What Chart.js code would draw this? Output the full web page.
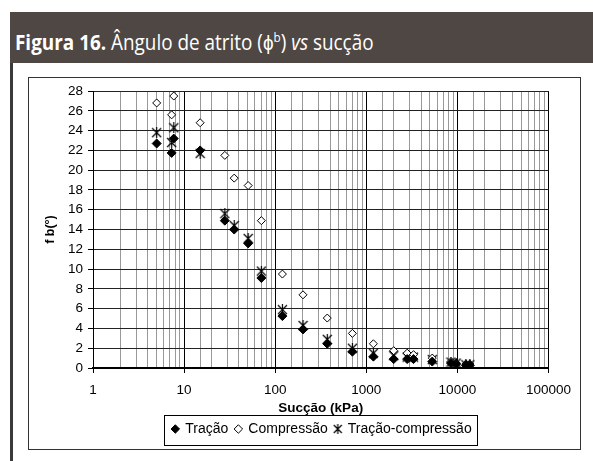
<!DOCTYPE html>
<html>
<head>
<meta charset="utf-8">
<script src="https://cdn.jsdelivr.net/npm/chart.js@4"></script>
<style>
  body { margin: 0; background: #fff; width: 593px; height: 461px; overflow: hidden; position: relative; }
  #leftLine { position: absolute; left: 10px; top: 12px; width: 3px; height: 449px; background: #3a3a3a; }
  #header { position: absolute; left: 10px; top: 12px; width: 583px; height: 51px; background: #4f4743;
    color: #fff; font-family: "Open Sans", sans-serif; font-size: 21px; line-height: 51px; padding-left: 5px; box-sizing: border-box;
    white-space: nowrap; }
  #header span { display: inline-block; transform: scaleX(0.9); transform-origin: left center; }
  #header b { font-weight: 700; }
  #frame { position: absolute; left: 28px; top: 77px; width: 553px; height: 373px; border: 1px solid #333; box-sizing: border-box; }
</style>
</head>
<body>
<div id="leftLine"></div>
<div id="header"><span><b>Figura 16.</b> Ângulo de atrito (ϕ<sup style="font-size:13px">b</sup>) <i>vs</i> sucção</span></div>
<div id="frame"><canvas id="chart" width="551" height="371"></canvas></div>
<script>
// Sucção (kPa) - mesmo eixo x para as três séries
const succao = [5, 7.3, 7.7, 15, 28, 35.5, 50.5, 70.5, 120, 202, 373, 704, 1197, 2000, 2810, 3300, 5300, 8500, 9700, 12400, 13700];
const tracao = [22.7, 21.75, 23.2, 22.0, 14.9, 14.0, 12.6, 9.1, 5.25, 3.9, 2.45, 1.65, 1.15, 0.9, 0.9, 0.9, 0.65, 0.5, 0.4, 0.27, 0.27];
const compressao = [26.8, 25.6, 27.5, 24.8, 21.5, 19.2, 18.45, 14.9, 9.5, 7.4, 5.05, 3.5, 2.45, 1.75, 1.5, 1.35, 1.0, 0.65, 0.5, 0.4, 0.4];
const tracaoCompressao = [23.8, 22.8, 24.3, 21.7, 15.6, 14.4, 13.1, 9.8, 5.9, 4.3, 2.9, 2.0, 1.5, 1.25, 1.1, 1.1, 0.85, 0.6, 0.5, 0.33, 0.33];

const seriesNames = ["Tração", "Compressão", "Tração-compressão"];

function pts(ys) {
  return ys.map((y, i) => ({ x: succao[i], y: y }));
}

// marcador estilo Excel: X com traço vertical
function makeStar(size) {
  const cv = document.createElement("canvas");
  cv.width = size;
  cv.height = size;
  const c = cv.getContext("2d");
  const m = size / 2;
  c.strokeStyle = "#000";
  c.lineWidth = 1.2;
  c.beginPath();
  c.moveTo(1, 1); c.lineTo(size - 1, size - 1);
  c.moveTo(size - 1, 1); c.lineTo(1, size - 1);
  c.moveTo(m, 0); c.lineTo(m, size);
  c.stroke();
  return cv;
}
const starCanvas = makeStar(11);

function isMajor(v) {
  const l = Math.log10(v);
  return Math.abs(l - Math.round(l)) < 1e-9;
}

// desloca a legenda e desenha a caixa em volta dela
const legendBox = {
  id: "legendBox",
  afterUpdate(chart) {
    const lg = chart.legend;
    if (!lg) return;
    lg.left += 24;
    lg.right += 24;
    lg.adjustHitBoxes();
  },
  afterDraw(chart) {
    const lg = chart.legend;
    if (!lg || !lg.legendHitBoxes.length) return;
    const boxes = lg.legendHitBoxes;
    const left = Math.min(...boxes.map((b) => b.left)) - 8;
    const right = Math.max(...boxes.map((b) => b.left + b.width)) + 6;
    const ctx = chart.ctx;
    ctx.save();
    ctx.strokeStyle = "#000";
    ctx.lineWidth = 1;
    ctx.strokeRect(Math.round(left) + 0.5, Math.round(lg.top) + 0.5, Math.round(right - left), Math.round(lg.height) - 1);
    ctx.restore();
  },
};

const ctx = document.getElementById("chart").getContext("2d");
Chart.defaults.font.family = "'Liberation Sans', Arial, sans-serif";
Chart.defaults.color = "#000";

new Chart(ctx, {
  type: "scatter",
  data: {
    datasets: [
      {
        label: seriesNames[0],
        data: pts(tracao),
        pointStyle: "rectRot",
        pointRadius: 4.5,
        backgroundColor: "#000",
        borderColor: "#000",
        borderWidth: 1,
      },
      {
        label: seriesNames[1],
        data: pts(compressao),
        pointStyle: "rectRot",
        pointRadius: 4,
        backgroundColor: "#fff",
        borderColor: "#000",
        borderWidth: 1,
      },
      {
        label: seriesNames[2],
        data: pts(tracaoCompressao),
        pointStyle: starCanvas,
        pointRadius: 5,
        backgroundColor: "#000",
        borderColor: "#000",
      },
    ],
  },
  options: {
    responsive: false,
    animation: false,
    layout: { padding: { left: 15, right: 28, top: 13, bottom: 3 } },
    plugins: {
      legend: {
        position: "bottom",
        labels: {
          usePointStyle: true,
          boxWidth: 6,
          boxHeight: 6,
          padding: 7,
          font: { size: 14 },
          color: "#000",
          generateLabels: (chart) =>
            Chart.defaults.plugins.legend.labels.generateLabels(chart).map((l, i) =>
              i === 2 ? Object.assign(l, { pointStyle: makeStar(10) }) : l
            ),
        },
      },
      tooltip: { enabled: false },
    },
    scales: {
      x: {
        type: "logarithmic",
        min: 1,
        max: 100000,
        afterFit: (scale) => { scale.height = 47; },
        ticks: {
          autoSkip: false,
          maxRotation: 0,
          padding: 9,
          font: { size: 13.5 },
          callback: (v) => (isMajor(v) ? String(v) : ""),
        },
        grid: {
          color: (c) => (c.tick && isMajor(c.tick.value) ? "#000" : "#999"),
          tickColor: (c) => (c.tick && isMajor(c.tick.value) ? "#000" : "rgba(0,0,0,0)"),
          tickLength: 5,
          lineWidth: 1,
        },
        border: { color: "#000", width: 2 },
        title: {
          display: true,
          text: "Sucção (kPa)",
          font: { size: 13.5, weight: "bold", lineHeight: 1 },
          padding: { top: 0, bottom: 0 },
        },
      },
      y: {
        min: 0,
        max: 28,
        afterFit: (scale) => { scale.width = 49; },
        ticks: {
          stepSize: 2,
          padding: 5,
          font: { size: 13.5 },
        },
        grid: {
          color: "#222",
          tickColor: "#000",
          tickLength: 5,
        },
        border: { color: "#000", width: 1 },
        title: {
          display: true,
          text: "f b(°)",
          font: { size: 12.5, weight: "bold", lineHeight: 1 },
          padding: { top: 0, bottom: 0 },
        },
      },
    },
  },
  plugins: [legendBox],
});
</script>
</body>
</html>
